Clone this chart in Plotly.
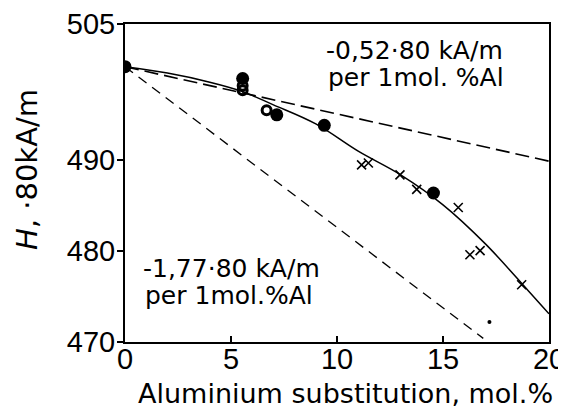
import plotly.graph_objects as go

# ---- data ----
curve_x = [0, 2, 4, 5.5, 7, 9, 11, 13, 15, 17, 19, 20]
curve_y = [500.3, 499.6, 498.6, 497.6, 496.1, 494.0, 491.0, 488.4, 485.1, 480.8, 475.7, 473.1]

upper_dash_x = [0, 20]
upper_dash_y = [500.3, 489.9]

lower_dash_x = [0, 16.9]
lower_dash_y = [500.3, 470.4]

filled_x = [0, 5.55, 7.16, 9.4, 14.55]
filled_y = [500.3, 499.0, 495.0, 493.85, 486.4]

open_x = [5.55, 5.55, 6.68]
open_y = [498.2, 497.7, 495.5]

cross_x = [11.16, 11.48, 12.97, 13.76, 15.72, 16.27, 16.75, 18.71]
cross_y = [489.5, 489.7, 488.4, 486.8, 484.8, 479.6, 480.05, 476.3]

dot_x = [17.19]
dot_y = [472.2]

x_ticks = [0, 5, 10, 15, 20]
y_ticks = [470, 480, 490, 505]

FONT = "Liberation Sans"
FONT2 = "DejaVu Sans"

fig = go.Figure()
fig.add_trace(go.Scatter(x=upper_dash_x, y=upper_dash_y, mode="lines",
                         line=dict(color="black", width=1.6, dash="14px,6px")))
fig.add_trace(go.Scatter(x=lower_dash_x, y=lower_dash_y, mode="lines",
                         line=dict(color="black", width=1.3, dash="10px,7px")))
fig.add_trace(go.Scatter(x=curve_x, y=curve_y, mode="lines",
                         line=dict(color="black", width=1.5, shape="spline", smoothing=1.0)))
fig.add_trace(go.Scatter(x=open_x, y=open_y, mode="markers",
                         marker=dict(symbol="circle-open", size=9, color="black",
                                     line=dict(width=3, color="black"))))
fig.add_trace(go.Scatter(x=filled_x, y=filled_y, mode="markers",
                         marker=dict(symbol="circle", size=13, color="black")))
fig.add_trace(go.Scatter(x=cross_x, y=cross_y, mode="markers",
                         marker=dict(symbol="x-thin", size=9, color="black",
                                     line=dict(width=1.6, color="black"))))
fig.add_trace(go.Scatter(x=dot_x, y=dot_y, mode="markers",
                         marker=dict(symbol="circle", size=4, color="black")))

axis_common = dict(showline=True, linecolor="black", linewidth=2, mirror=True,
                   showgrid=False, zeroline=False, ticklen=6, tickwidth=1.5,
                   automargin=False,
                   tickcolor="black", tickfont=dict(family=FONT, size=29, color="black"))

fig.update_xaxes(range=[0, 20], tickvals=x_ticks, ticks="inside",
                 ticklabelstandoff=-10, **axis_common)
fig.update_yaxes(range=[470, 505], tickvals=y_ticks, ticks="outside",
                 ticklabelstandoff=-4, **axis_common)

# page body adds an 8px offset; figure coordinates = screen - 8
OFF = 8
W, H = 566 - OFF, 412 - OFF
L, T = 125 - OFF, 24 - OFF
R = W - (549 - OFF)
B = H - (342 - OFF)

def px(xs):
    xf = xs - OFF
    return (xf - L) / (W - L - R)

def py(ys):
    yf = ys - OFF
    return (H - B - yf) / (H - T - B)

ann = []
ann.append(dict(text="<i>H</i>, ·80kA/m", textangle=-90, x=px(27), y=py(170),
                xref="paper", yref="paper", showarrow=False,
                font=dict(family=FONT2, size=29, color="black"),
                xanchor="center", yanchor="middle"))
ann.append(dict(text="Aluminium substitution, mol.%", x=px(345), y=py(393),
                xref="paper", yref="paper", showarrow=False,
                font=dict(family=FONT2, size=27, color="black"),
                xanchor="center", yanchor="middle"))
ann.append(dict(text="-0,52·80 kA/m", x=px(324), y=py(51),
                xref="paper", yref="paper", showarrow=False,
                font=dict(family=FONT2, size=25, color="black"),
                xanchor="left", yanchor="middle"))
ann.append(dict(text="per 1mol. %Al", x=px(326), y=py(78),
                xref="paper", yref="paper", showarrow=False,
                font=dict(family=FONT2, size=25, color="black"),
                xanchor="left", yanchor="middle"))
ann.append(dict(text="-1,77·80 kA/m", x=px(141), y=py(268),
                xref="paper", yref="paper", showarrow=False,
                font=dict(family=FONT2, size=25, color="black"),
                xanchor="left", yanchor="middle"))
ann.append(dict(text="per 1mol.%Al", x=px(143), y=py(295),
                xref="paper", yref="paper", showarrow=False,
                font=dict(family=FONT2, size=25, color="black"),
                xanchor="left", yanchor="middle"))

fig.update_layout(width=W, height=H, margin=dict(l=L, r=R, t=T, b=B),
                  paper_bgcolor="white", plot_bgcolor="white",
                  showlegend=False, annotations=ann)

fig.write_html("out.html")
